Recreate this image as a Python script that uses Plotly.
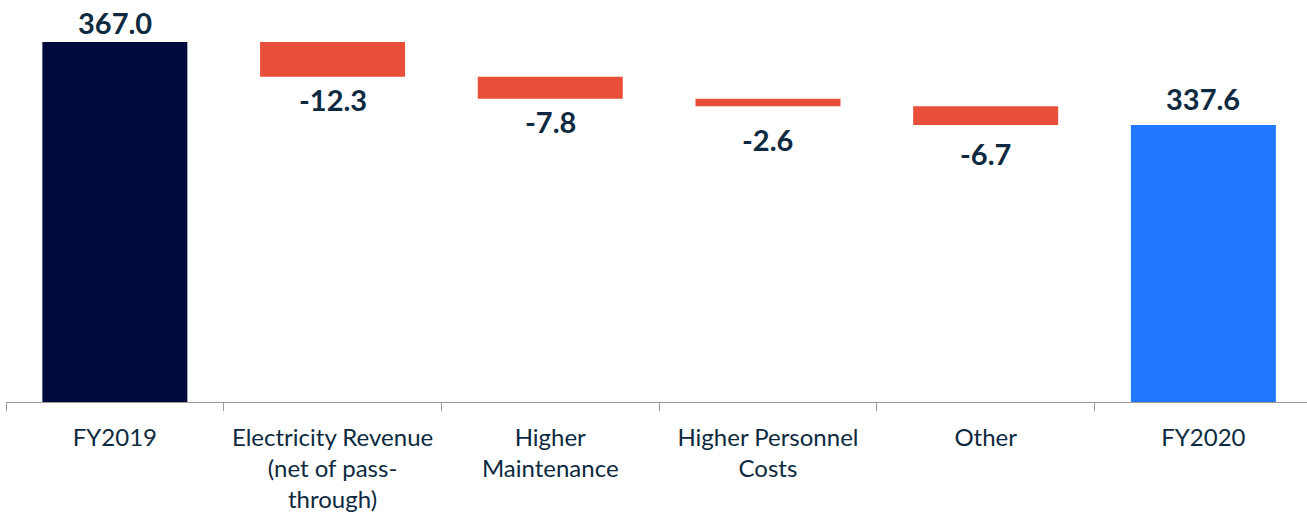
import plotly.graph_objects as go

categories = ["FY2019", "Electricity Revenue<br>(net of pass-<br>through)", "Higher<br>Maintenance",
              "Higher Personnel<br>Costs", "Other", "FY2020"]
values = [367.0, -12.3, -7.8, -2.6, -6.7, 337.6]
measures = ["total", "relative", "relative", "relative", "relative", "total"]
labels = ["367.0", "-12.3", "-7.8", "-2.6", "-6.7", "337.6"]

bar_colors = ["#000a3c", "#e84e3a", "#e84e3a", "#e84e3a", "#e84e3a", "#1f78ff"]
label_shift = [20, 23, 23, 33, 28, 27]

bases, heights, tops, bottoms = [], [], [], []
running = 0.0
for v, m in zip(values, measures):
    if m == "total":
        bases.append(0.0)
        heights.append(v)
        running = v
        tops.append(v)
        bottoms.append(0.0)
    else:
        start = running
        running = running + v
        bases.append(min(start, running))
        heights.append(abs(v))
        tops.append(max(start, running))
        bottoms.append(min(start, running))

fig = go.Figure()
fig.add_trace(go.Bar(x=categories, y=heights, base=bases, marker=dict(color=bar_colors, line=dict(width=0)),
                     hoverinfo="skip", showlegend=False))

text_color = "#0d2a40"
for i, (c, m) in enumerate(zip(categories, measures)):
    if m == "total":
        y = tops[i]
        ys = label_shift[i]
    else:
        y = bottoms[i]
        ys = -label_shift[i]
    fig.add_annotation(x=c, y=y, text="<b>" + labels[i] + "</b>", showarrow=False, yshift=ys,
                       yanchor="middle", font=dict(family="Lato", size=29, color=text_color))

fig.update_layout(
    width=1307, height=513,
    margin=dict(l=6, r=0, t=0, b=111),
    plot_bgcolor="white", paper_bgcolor="white",
    bargap=0.334,
    xaxis=dict(type="category", range=[-0.5, 5.476], tickson="boundaries", ticks="outside", ticklen=8,
               tickcolor="#a09890", showline=True, linecolor="#a09890", linewidth=1, showgrid=False,
               tickfont=dict(family="Lato", size=24, color=text_color), ticklabelstandoff=14,
               tickangle=0, automargin=False),
    yaxis=dict(range=[239.5, 381.9], visible=False, showgrid=False, zeroline=False),
)

fig.write_html("out.html", config={"displayModeBar": False},
               post_script="document.body.style.margin='0px';document.body.style.overflow='hidden';")
